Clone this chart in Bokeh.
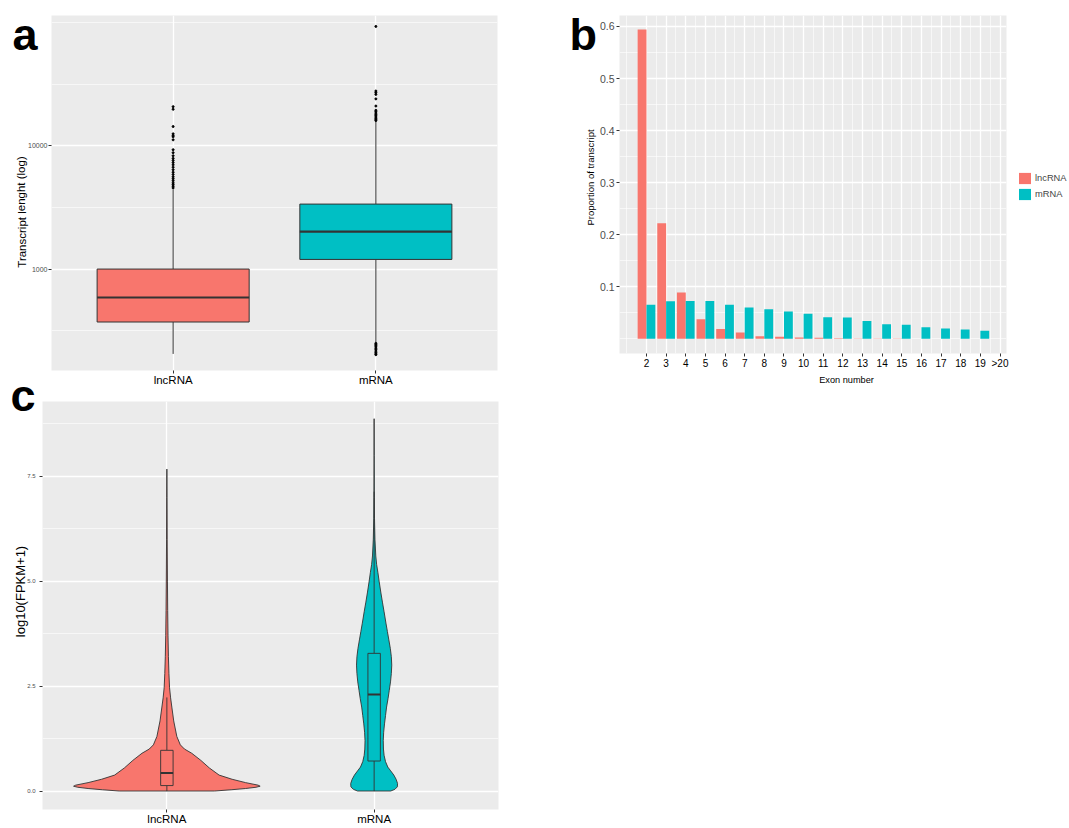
from bokeh.plotting import figure
from bokeh.layouts import column, row
from bokeh.models import (Range1d, FixedTicker, Label, Legend, LegendItem,
                          NumeralTickFormatter, ColumnDataSource)
from bokeh.transform import dodge
from bokeh.embed import file_html
from bokeh.resources import INLINE

FONT = "Liberation Sans"
LNC_COL = "#F8766D"
MRNA_COL = "#00BFC4"
BG = "#EBEBEB"
EDGE = "#333333"
TICKGRAY = "#4D4D4D"

# ---------------- data: panel a (transcript length, log) ----------------
groups = ["lncRNA", "mRNA"]
len_q1 = [372, 1197]
len_med = [588, 2014]
len_q3 = [1000, 3365]
len_whisk_lo = [205, 256]
len_whisk_hi = [4420, 15850]
lnc_len_outliers = [20760, 19760, 14320, 12490, 12100, 11820, 11170, 9290, 8790,
                    8300, 7900, 7600, 7300, 7000, 6700, 6400, 6100, 5850, 5600,
                    5400, 5200, 5000, 4850, 4700, 4550]
mrna_len_outliers = [92900, 27800, 27000, 26100, 24000, 21000, 19400, 18900,
                     18400, 17900, 17500, 17100, 16700, 16300, 16000,
                     250, 245, 240, 234, 228, 222, 216, 210, 205, 202]
len_ticks = [1000, 10000]
len_minor = [316.2, 3162, 31620, 100000]

# ---------------- data: panel b (exon number) ----------------
exon_labels = ["2", "3", "4", "5", "6", "7", "8", "9", "10", "11", "12", "13",
               "14", "15", "16", "17", "18", "19", ">20"]
exon_number = [2, 3, 4, 5, 6, 7, 8, 9, 10, 11, 12, 13, 14, 15, 16, 17, 18, 19]
lnc_prop = [0.594, 0.222, 0.089, 0.0376, 0.019, 0.012, 0.005, 0.004, 0.0026,
            0.002, 0.0013, 0.0008, 0.0006, 0.0006, 0.0, 0.0, 0.0, 0.0]
mrna_prop = [0.0656, 0.072, 0.0726, 0.0726, 0.0656, 0.060, 0.057, 0.0525, 0.048,
             0.0416, 0.041, 0.034, 0.028, 0.027, 0.0224, 0.020, 0.018, 0.0154]
prop_ticks = [0.1, 0.2, 0.3, 0.4, 0.5, 0.6]
prop_minor = [0.0, 0.05, 0.15, 0.25, 0.35, 0.45, 0.55]

# ---------------- data: panel c (expression violins) ----------------
lnc_vio_y = [0.0, 0.03, 0.06, 0.09, 0.115, 0.14, 0.2, 0.28, 0.38, 0.55, 0.73,
             0.9, 1.0, 1.1, 1.3, 1.67, 2.0, 2.22, 2.46, 2.8, 3.2, 3.7, 4.3,
             5.0, 6.0, 7.0, 7.67]
lnc_vio_hw = [0.23, 0.31, 0.38, 0.43, 0.45, 0.44, 0.38, 0.315, 0.252, 0.205,
              0.164, 0.12, 0.085, 0.065, 0.048, 0.033, 0.024, 0.018, 0.013,
              0.010, 0.0075, 0.0055, 0.004, 0.0028, 0.0015, 0.0008, 0.0]
mrna_vio_y = [0.0, 0.04, 0.1, 0.18, 0.28, 0.38, 0.48, 0.57, 0.7, 0.85, 1.0,
              1.2, 1.4, 1.6, 1.8, 2.0, 2.2, 2.4, 2.6, 2.8, 3.0, 3.2, 3.4, 3.6,
              3.8, 4.0, 4.27, 4.5, 4.74, 5.0, 5.21, 5.4, 5.6, 6.0, 6.5, 7.0,
              8.0, 8.87]
mrna_vio_hw = [0.08, 0.1, 0.112, 0.113, 0.106, 0.095, 0.08, 0.066, 0.055,
               0.048, 0.045, 0.044, 0.046, 0.05, 0.055, 0.06, 0.067, 0.073,
               0.079, 0.083, 0.085, 0.083, 0.078, 0.071, 0.064, 0.057, 0.048,
               0.04, 0.032, 0.024, 0.018, 0.012, 0.008, 0.004, 0.0018, 0.001,
               0.0004, 0.0]
vbox_q1 = [0.13, 0.715]
vbox_med = [0.43, 2.30]
vbox_q3 = [0.97, 3.28]
vbox_lo = [0.0, 0.0]
vbox_hi = [2.23, 7.13]
expr_ticks = [0.0, 2.5, 5.0, 7.5]
expr_minor = [1.25, 3.75, 6.25, 8.75]

colors = [LNC_COL, MRNA_COL]
pos = [i + 1 for i in range(len(groups))]
cat_overrides = {p: g for p, g in zip(pos, groups)}

PAGE_W, PAGE_H = 1068, 827


def no_frame_align(p):
    if "frame_align" in p.properties():
        p.frame_align = False


def base_style(p):
    p.background_fill_color = BG
    p.border_fill_color = "white"
    p.outline_line_color = None
    no_frame_align(p)
    for ax in p.axis:
        ax.axis_line_color = None
        ax.minor_tick_line_color = None
        ax.major_tick_line_color = EDGE
        ax.major_tick_in = 0
        ax.major_tick_out = 3
        ax.major_label_text_font = FONT
    for g in p.grid:
        g.grid_line_color = "white"
        g.grid_line_width = 1.3
        g.minor_grid_line_color = "white"
        g.minor_grid_line_width = 0.6


# ======================= panel a =======================
pa = figure(width=555, height=388, x_range=Range1d(0.4, 2.6),
            y_range=Range1d(150.4, 113900), y_axis_type="log",
            output_backend="svg", toolbar_location=None,
            min_border_left=51, min_border_right=58, min_border_top=15,
            min_border_bottom=16)
base_style(pa)
ta_x = FixedTicker(ticks=pos)
ta_y = FixedTicker(ticks=len_ticks, minor_ticks=len_minor)
pa.xaxis.ticker = ta_x
pa.xgrid.ticker = ta_x
pa.yaxis.ticker = ta_y
pa.ygrid.ticker = ta_y
pa.xgrid.minor_grid_line_color = None
pa.yaxis.formatter = NumeralTickFormatter(format="0")
pa.xaxis.major_label_overrides = cat_overrides
pa.xaxis.major_label_text_font_size = "11.5px"
pa.xaxis.major_label_text_color = "black"
pa.xaxis.major_label_standoff = 0
pa.yaxis.major_label_text_font_size = "7px"
pa.yaxis.major_label_text_color = TICKGRAY
pa.yaxis.major_label_standoff = 0

pa.segment(x0=pos, x1=pos, y0=len_whisk_lo, y1=len_q1, line_color=EDGE, line_width=1)
pa.segment(x0=pos, x1=pos, y0=len_q3, y1=len_whisk_hi, line_color=EDGE, line_width=1)
pa.vbar(x=pos, top=len_q3, bottom=len_q1, width=0.75, fill_color=colors,
        line_color=EDGE, line_width=1)
pa.segment(x0=[p - 0.375 for p in pos], x1=[p + 0.375 for p in pos],
           y0=len_med, y1=len_med, line_color=EDGE, line_width=2.2)
pa.scatter(x=[pos[0]] * len(lnc_len_outliers), y=lnc_len_outliers, size=2,
           color="black")
pa.scatter(x=[pos[1]] * len(mrna_len_outliers), y=mrna_len_outliers, size=2,
           color="black")

# ======================= panel b =======================
pb = figure(width=PAGE_W - 555, height=388, x_range=Range1d(0.626, 20.33),
            y_range=Range1d(-0.0282, 0.6211), output_backend="svg",
            toolbar_location=None, min_border_left=64, min_border_right=62,
            min_border_top=15, min_border_bottom=35)
base_style(pb)
exon_pos = [i + 2 for i in range(len(exon_labels))]
tb_x = FixedTicker(ticks=exon_pos, minor_ticks=[1.0] + [p + 0.5 for p in exon_pos])
tb_y = FixedTicker(ticks=prop_ticks, minor_ticks=prop_minor)
pb.xaxis.ticker = tb_x
pb.xgrid.ticker = tb_x
pb.yaxis.ticker = tb_y
pb.ygrid.ticker = tb_y
pb.xaxis.major_label_overrides = {p: l for p, l in zip(exon_pos, exon_labels)}
pb.yaxis.formatter = NumeralTickFormatter(format="0.0")
pb.xaxis.major_label_text_font_size = "10px"
pb.xaxis.major_label_text_color = "black"
pb.xaxis.major_label_standoff = 0
pb.yaxis.major_label_text_font_size = "10.5px"
pb.yaxis.major_label_text_color = TICKGRAY
pb.yaxis.major_label_standoff = 1

src = ColumnDataSource(dict(exon=exon_number, lnc=lnc_prop, mrna=mrna_prop))
pb.vbar(x=dodge("exon", -0.225, range=pb.x_range), top="lnc", bottom=0,
        width=0.45, source=src, fill_color=LNC_COL, line_color=None)
pb.vbar(x=dodge("exon", 0.225, range=pb.x_range), top="mrna", bottom=0,
        width=0.45, source=src, fill_color=MRNA_COL, line_color=None)

# ======================= panel c =======================
pc = figure(width=540, height=PAGE_H - 388, x_range=Range1d(0.4, 2.6),
            y_range=Range1d(-0.44, 9.28), output_backend="svg",
            toolbar_location=None, min_border_left=42, min_border_right=42,
            min_border_top=13, min_border_bottom=14)
base_style(pc)
tc_x = FixedTicker(ticks=pos)
tc_y = FixedTicker(ticks=expr_ticks, minor_ticks=expr_minor)
pc.xaxis.ticker = tc_x
pc.xgrid.ticker = tc_x
pc.yaxis.ticker = tc_y
pc.ygrid.ticker = tc_y
pc.xgrid.minor_grid_line_color = None
pc.yaxis.formatter = NumeralTickFormatter(format="0.0")
pc.xaxis.major_label_overrides = cat_overrides
pc.xaxis.major_label_text_font_size = "11.5px"
pc.xaxis.major_label_text_color = "black"
pc.xaxis.major_label_standoff = 0
pc.yaxis.major_label_text_font_size = "6px"
pc.yaxis.major_label_text_color = TICKGRAY
pc.yaxis.major_label_standoff = 3

for center, vy, vhw, col in [(pos[0], lnc_vio_y, lnc_vio_hw, LNC_COL),
                             (pos[1], mrna_vio_y, mrna_vio_hw, MRNA_COL)]:
    xs = [center + h for h in vhw] + [center - h for h in reversed(vhw)]
    ys = list(vy) + list(reversed(vy))
    pc.patch(xs, ys, fill_color=col, line_color=EDGE, line_width=0.9)

pc.segment(x0=pos, x1=pos, y0=vbox_lo, y1=vbox_q1, line_color=EDGE, line_width=0.9)
pc.segment(x0=pos, x1=pos, y0=vbox_q3, y1=vbox_hi, line_color=EDGE, line_width=0.9)
pc.vbar(x=pos, top=vbox_q3, bottom=vbox_q1, width=0.06, fill_color=colors,
        line_color=EDGE, line_width=0.9)
pc.segment(x0=[p - 0.03 for p in pos], x1=[p + 0.03 for p in pos],
           y0=vbox_med, y1=vbox_med, line_color=EDGE, line_width=1.8)

# ====== transparent full-page layer (pulled up over the panels) for free text ======
ov = figure(width=PAGE_W, height=PAGE_H, x_range=Range1d(0, PAGE_W),
            y_range=Range1d(PAGE_H, 0), output_backend="svg",
            toolbar_location=None, x_axis_location=None, y_axis_location=None,
            title_location=None, min_border=0)
ov.min_border_left = ov.min_border_right = 0
ov.min_border_top = ov.min_border_bottom = 0
no_frame_align(ov)
ov.grid.visible = False
ov.background_fill_color = None
ov.border_fill_color = None
ov.outline_line_color = None
ov.margin = (-PAGE_H, 0, 0, 0)


def page_text(x, y, text, size, angle=0.0, bold=False, align="center",
              baseline="middle"):
    ov.add_layout(Label(x=x, y=y, text=text, text_font=FONT,
                        text_font_size=size, angle=angle,
                        text_font_style="bold" if bold else "normal",
                        text_align=align, text_baseline=baseline,
                        text_color="black"))


page_text(12, 33.5, "a", "45px", bold=True, align="left", baseline="alphabetic")
page_text(569, 34, "b", "45px", bold=True, align="left", baseline="alphabetic")
page_text(10, 395, "c", "45px", bold=True, align="left", baseline="alphabetic")
page_text(21, 211.5, "Transcript lenght (log)", "11.5px", angle=1.5708)
page_text(590, 177, "Proportion of transcript", "9.5px", angle=1.5708)
page_text(846, 379.5, "Exon number", "9.2px")
page_text(20, 591, "log10(FPKM+1)", "13px", angle=1.5708)

# legend of panel b: hidden key renderers on the same data, so only the keys show
key_lnc = ov.vbar(x="exon", top="lnc", bottom=0, width=0.45, source=src,
                  fill_color=LNC_COL, line_color=None, visible=False)
key_mrna = ov.vbar(x="exon", top="mrna", bottom=0, width=0.45, source=src,
                   fill_color=MRNA_COL, line_color=None, visible=False)
legend = Legend(items=[LegendItem(label=groups[0], renderers=[key_lnc]),
                       LegendItem(label=groups[1], renderers=[key_mrna])],
                location=(1017, PAGE_H - 201), border_line_color=None,
                background_fill_alpha=0, padding=0, margin=0, spacing=2,
                glyph_width=15, glyph_height=14, label_height=14,
                label_standoff=3, label_text_font=FONT,
                label_text_font_size="9.3px", inactive_fill_alpha=0)
ov.add_layout(legend)

layout = column(row(pa, pb), pc, ov)
open("out.html", "w").write(file_html(layout, INLINE))
